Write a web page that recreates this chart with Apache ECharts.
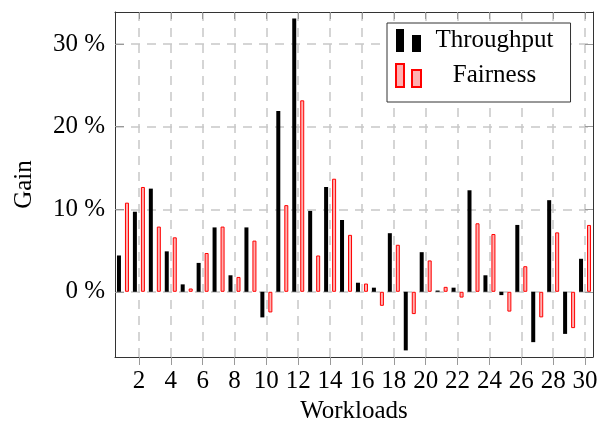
<!DOCTYPE html>
<html>
<head>
<meta charset="utf-8">
<script src="https://cdn.jsdelivr.net/npm/echarts@6/dist/echarts.min.js"></script>
<style>
html,body{margin:0;padding:0;background:#fff;}
#chart{width:611px;height:432px;}
</style>
</head>
<body>
<div id="chart"></div>
<script>
var workloads = [1,2,3,4,5,6,7,8,9,10,11,12,13,14,15,16,17,18,19,20,21,22,23,24,25,26,27,28,29,30];
var throughput = [4.4, 9.7, 12.5, 4.9, 0.9, 3.5, 7.8, 2.0, 7.8, -3.1, 21.9, 33.1, 9.8, 12.7, 8.7, 1.1, 0.5, 7.1, -7.1, 4.8, 0.15, 0.5, 12.3, 2.0, -0.4, 8.1, -6.1, 11.1, -5.1, 4.0];
var fairness = [10.8, 12.7, 7.9, 6.6, 0.4, 4.7, 7.9, 1.8, 6.2, -2.5, 10.5, 23.2, 4.4, 13.7, 6.9, 1.0, -1.7, 5.7, -2.7, 3.8, 0.6, -0.7, 8.3, 7.0, -2.4, 3.1, -3.1, 7.2, -4.4, 8.1];
var xTicks = [2,4,6,8,10,12,14,16,18,20,22,24,26,28,30];
var yTicks = [0,10,20,30];

(function () {
	"use strict";
	var chart = echarts.init(document.getElementById('chart'));
	var font = 'Liberation Serif';
	var pairs = function (vals) {
		return workloads.map(function (w, i) { return [w, vals[i]]; });
	};
	var dashed = { show: true, lineStyle: { color: '#c8c8c8', width: 1.5, type: [9, 7] } };
	var frame = { show: true, onZero: false, lineStyle: { color: '#333', width: 1 } };

	var option = {
		backgroundColor: '#fff',
		animation: false,
		textStyle: { fontFamily: font },
		legend: {
			orient: 'vertical',
			left: 387,
			top: 23,
			padding: [5, 17, 14, 8],
			itemWidth: 25,
			itemHeight: 23,
			itemGap: 10,
			borderColor: '#333',
			borderWidth: 1,
			backgroundColor: '#fff',
			icon: 'path://M0,0H8V23H0ZM16,6H25V23H16Z',
			data: ['Throughput', 'Fairness'],
			formatter: function (name) { return '{c|' + name + '}'; },
			textStyle: {
				fontFamily: font,
				color: '#000',
				rich: { c: { width: 137, align: 'center', fontSize: 25, fontFamily: font, color: '#000' } }
			}
		},
		grid: { left: 115, right: 18, top: 12, bottom: 75, containLabel: false },
		xAxis: [
			{
				type: 'value',
				min: 0.5,
				max: 30.5,
				name: 'Workloads',
				nameLocation: 'middle',
				nameGap: 42,
				nameTextStyle: { fontSize: 25, fontFamily: font, color: '#000' },
				axisLine: frame,
				axisTick: { show: true, inside: false, length: 8, customValues: xTicks, lineStyle: { color: '#999' } },
				axisLabel: { customValues: xTicks, fontSize: 25, fontFamily: font, color: '#000', margin: 12 },
				splitLine: dashed
			},
			{
				type: 'value',
				position: 'top',
				min: 0.5,
				max: 30.5,
				axisLine: frame,
				axisTick: { show: true, inside: true, length: 7, customValues: xTicks, lineStyle: { color: '#999' } },
				axisLabel: { show: false, customValues: xTicks },
				splitLine: { show: false }
			}
		],
		yAxis: [
			{
				type: 'value',
				min: -7.9,
				max: 33.9,
				name: 'Gain',
				nameLocation: 'middle',
				nameGap: 78,
				nameTextStyle: { fontSize: 25, fontFamily: font, color: '#000' },
				axisLine: frame,
				axisTick: { show: true, inside: true, length: 9, customValues: yTicks, lineStyle: { color: '#999' } },
				axisLabel: { customValues: yTicks, fontSize: 25, fontFamily: font, color: '#000', margin: 10, formatter: '{value} %' },
				splitLine: dashed
			},
			{
				type: 'value',
				position: 'right',
				min: -7.9,
				max: 33.9,
				axisLine: frame,
				axisTick: { show: true, inside: true, length: 8, customValues: yTicks, lineStyle: { color: '#999' } },
				axisLabel: { show: false, customValues: yTicks },
				splitLine: { show: false }
			}
		],
		series: [
			{
				name: 'Throughput',
				type: 'bar',
				barWidth: 4,
				barGap: '100%',
				itemStyle: { color: '#000', borderColor: '#000', borderWidth: 0 },
				data: pairs(throughput)
			},
			{
				name: 'Fairness',
				type: 'bar',
				barWidth: 4,
				barGap: '100%',
				itemStyle: { color: '#ffb0b0', borderColor: '#ff0000', borderWidth: 1 },
				data: pairs(fairness)
			}
		]
	};
	chart.setOption(option);
})();
</script>
</body>
</html>
